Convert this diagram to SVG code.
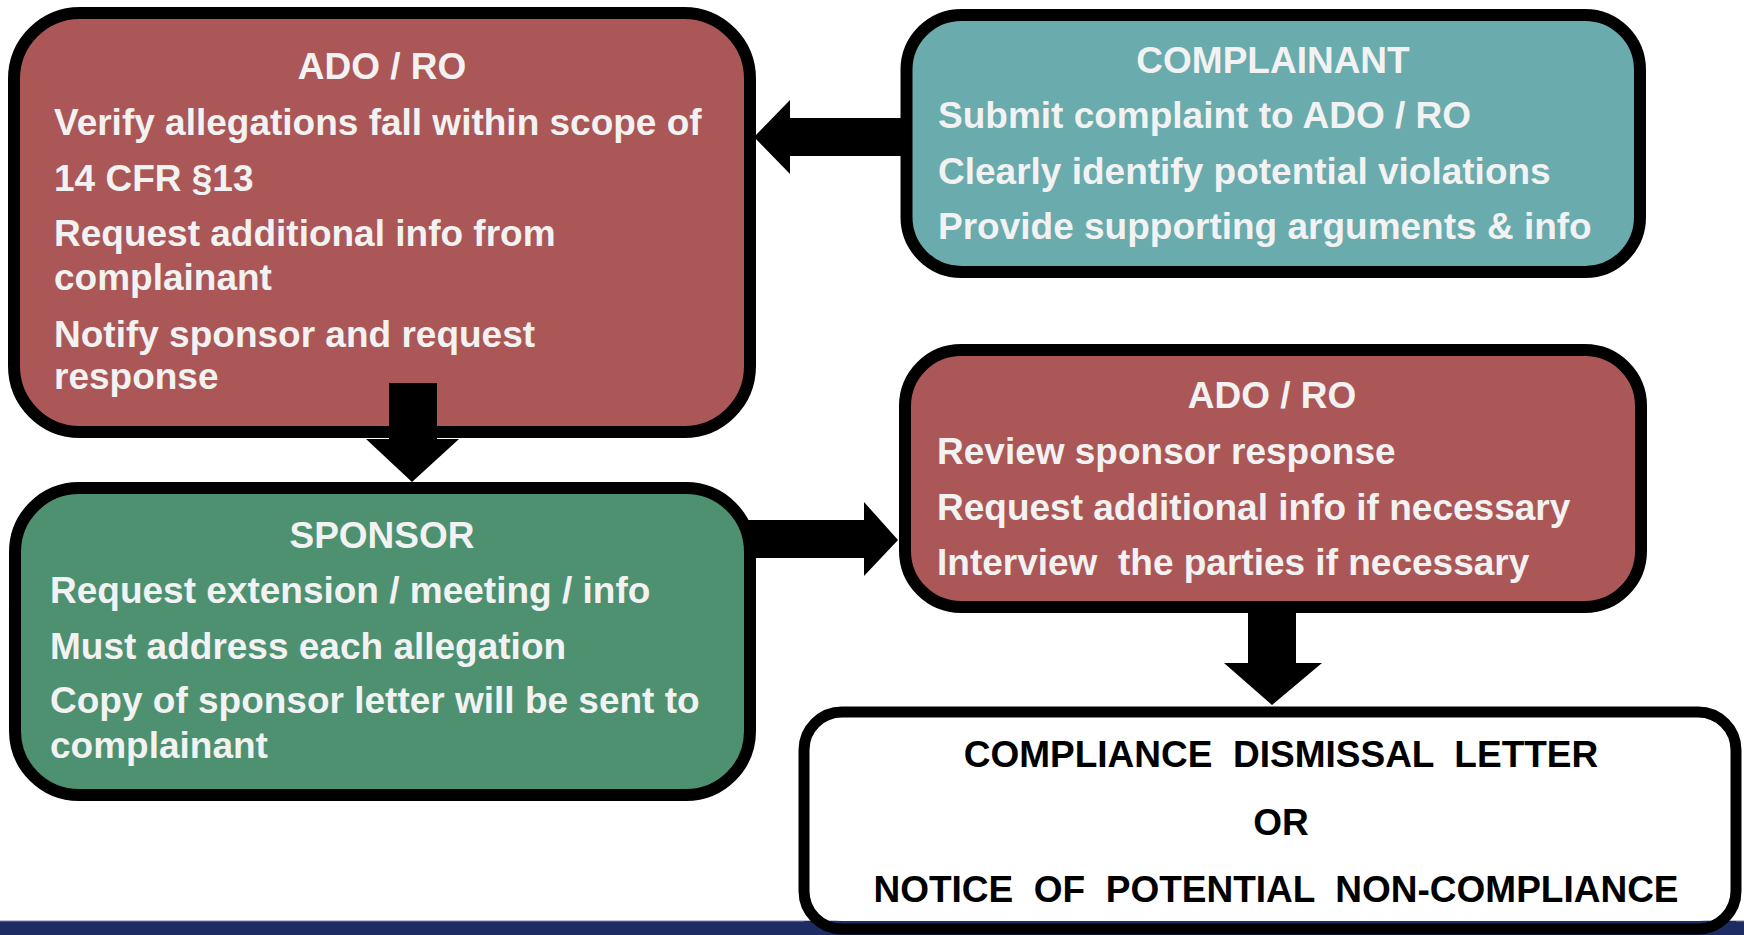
<svg xmlns="http://www.w3.org/2000/svg" width="1744" height="935" viewBox="0 0 1744 935">
  <style>
    .box { stroke: #000; stroke-width: 12; }
    .red { fill: #ab5757; }
    .teal { fill: #6aabad; }
    .green { fill: #4e9170; }
    .white { fill: #ffffff; }
    text { font-family: "Liberation Sans", Arial, sans-serif; font-weight: bold; font-size: 37px; white-space: pre; }
    .lt { fill: #f2f2f2; }
    .dk { fill: #000; }
    .mid { text-anchor: middle; }
    .arrow { fill: #000; }
  </style>

  <!-- navy footer band -->
  <rect x="0" y="921" width="1744" height="14" fill="#1d2d64"/>
  <rect x="0" y="920.5" width="1744" height="1" fill="#7c84a8"/>

  <g id="ado-ro-intake">
    <rect class="box red" x="14" y="13" width="736" height="419" rx="66" ry="66"/>
    <text class="lt mid" x="382" y="79">ADO / RO</text>
    <text class="lt" x="54" y="135">Verify allegations fall within scope of</text>
    <text class="lt" x="54" y="191">14 CFR §13</text>
    <text class="lt" x="54" y="246">Request additional info from</text>
    <text class="lt" x="54" y="290">complainant</text>
    <text class="lt" x="54" y="347">Notify sponsor and request</text>
    <text class="lt" x="54" y="389">response</text>
  </g>

  <g id="complainant">
    <rect class="box teal" x="906.5" y="15" width="733.5" height="257" rx="55" ry="55"/>
    <text class="lt mid" x="1273" y="73">COMPLAINANT</text>
    <text class="lt" x="938" y="128">Submit complaint to ADO / RO</text>
    <text class="lt" x="938" y="184">Clearly identify potential violations</text>
    <text class="lt" x="938" y="239">Provide supporting arguments &amp; info</text>
  </g>

  <g id="sponsor">
    <rect class="box green" x="15" y="488" width="735" height="307" rx="64" ry="64"/>
    <text class="lt mid" x="382" y="548">SPONSOR</text>
    <text class="lt" x="50" y="603">Request extension / meeting / info</text>
    <text class="lt" x="50" y="659">Must address each allegation</text>
    <text class="lt" x="50" y="713">Copy of sponsor letter will be sent to</text>
    <text class="lt" x="50" y="758">complainant</text>
  </g>

  <g id="ado-ro-review">
    <rect class="box red" x="905" y="350" width="736" height="257" rx="56" ry="56"/>
    <text class="lt mid" x="1272" y="408">ADO / RO</text>
    <text class="lt" x="937" y="464">Review sponsor response</text>
    <text class="lt" x="937" y="520">Request additional info if necessary</text>
    <text class="lt" x="937" y="575">Interview  the parties if necessary</text>
  </g>

  <g id="outcome">
    <rect class="white" x="804" y="712" width="932" height="209" rx="38" ry="38"/>
    <rect x="804" y="921" width="932" height="8" fill="#1d2d64"/>
    <rect x="804" y="712" width="932" height="217" rx="38" ry="38" fill="none" stroke="#000" stroke-width="11"/>
    <text class="dk mid" x="1281" y="767">COMPLIANCE  DISMISSAL  LETTER</text>
    <text class="dk mid" x="1281" y="835">OR</text>
    <text class="dk mid" x="1276" y="902">NOTICE  OF  POTENTIAL  NON-COMPLIANCE</text>
  </g>

  <g id="connectors">
    <!-- complainant to ADO / RO -->
    <polygon class="arrow" points="906,118 790,118 790,100 754,137 790,174 790,156 906,156"/>
    <!-- ADO / RO down to sponsor -->
    <polygon class="arrow" points="389,383 437,383 437,439 459,439 412,482 366,439 389,439"/>
    <!-- sponsor to ADO / RO review -->
    <polygon class="arrow" points="746,520 864,520 864,502 898,540 864,576 864,558 746,558"/>
    <!-- review down to outcome letter -->
    <polygon class="arrow" points="1248,607 1296,607 1296,663 1322,663 1272,705 1224,663 1248,663"/>
  </g>
</svg>
